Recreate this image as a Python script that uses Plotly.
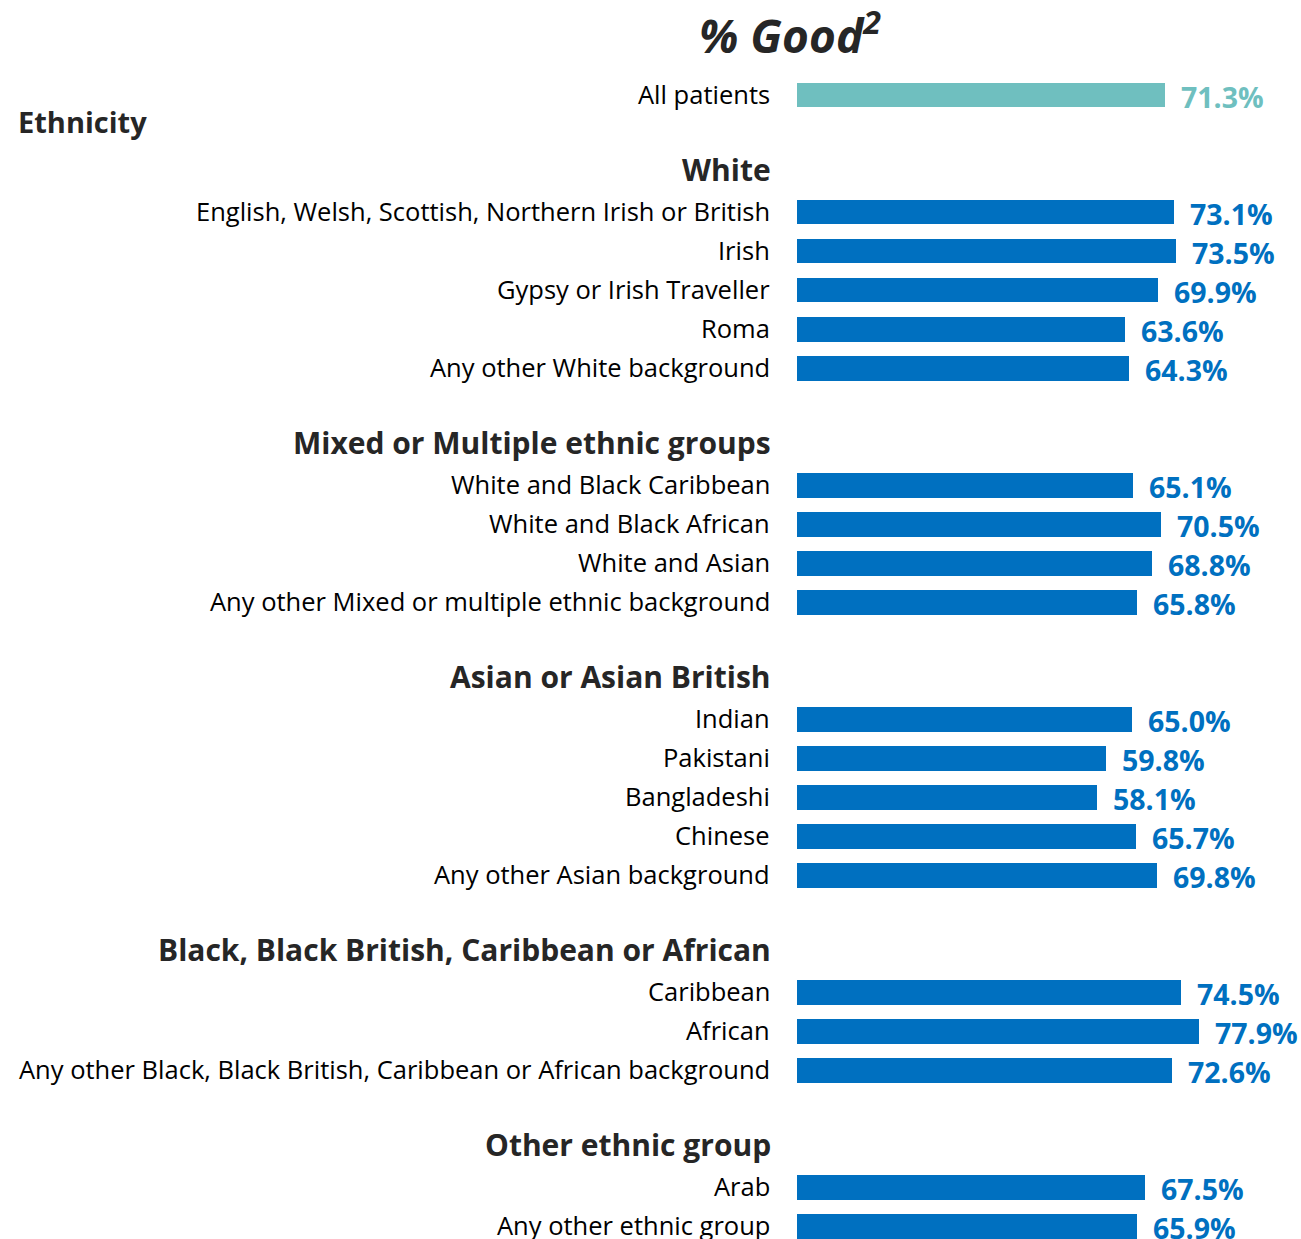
import plotly.graph_objects as go

# ---- data ----
overall_label = "All patients"
overall_value = 71.3

group_names = [
    "White",
    "Mixed or Multiple ethnic groups",
    "Asian or Asian British",
    "Black, Black British, Caribbean or African",
    "Other ethnic group",
]
white_labels = ["English, Welsh, Scottish, Northern Irish or British", "Irish",
                "Gypsy or Irish Traveller", "Roma", "Any other White background"]
white_values = [73.1, 73.5, 69.9, 63.6, 64.3]
mixed_labels = ["White and Black Caribbean", "White and Black African", "White and Asian",
                "Any other Mixed or multiple ethnic background"]
mixed_values = [65.1, 70.5, 68.8, 65.8]
asian_labels = ["Indian", "Pakistani", "Bangladeshi", "Chinese", "Any other Asian background"]
asian_values = [65.0, 59.8, 58.1, 65.7, 69.8]
black_labels = ["Caribbean", "African", "Any other Black, Black British, Caribbean or African background"]
black_values = [74.5, 77.9, 72.6]
other_labels = ["Arab", "Any other ethnic group"]
other_values = [67.5, 65.9]

group_labels = [white_labels, mixed_labels, asian_labels, black_labels, other_labels]
group_values = [white_values, mixed_values, asian_values, black_values, other_values]

BLUE = "#0070C0"
TEAL = "#6FBFBF"
DARK = "#262626"
FONT = "Open Sans"

# ---- build row layout ----
rows_y, rows_lab, rows_val, rows_col = [], [], [], []
header_pos = []
pos = 0
rows_y.append(pos); rows_lab.append(overall_label); rows_val.append(overall_value); rows_col.append(TEAL)
pos += 2
for g, labs, vals in zip(group_names, group_labels, group_values):
    header_pos.append((g, pos))
    pos += 1
    for l, v in zip(labs, vals):
        rows_y.append(pos); rows_lab.append(l); rows_val.append(v); rows_col.append(BLUE)
        pos += 1
    pos += 1

fig = go.Figure()
fig.add_trace(go.Bar(
    x=rows_val, y=rows_y, orientation="h",
    marker=dict(color=rows_col, line=dict(width=0)),
    width=0.64, hoverinfo="skip",
))

annotations = []
# row labels
for y, l in zip(rows_y, rows_lab):
    annotations.append(dict(
        x=0, y=y, xref="paper", yref="y", text=l, showarrow=False,
        xanchor="right", yanchor="middle", xshift=-25, yshift=1,
        font=dict(family=FONT, size=25.5, color="#000000"),
    ))
# value labels
for y, v, c in zip(rows_y, rows_val, rows_col):
    annotations.append(dict(
        x=v, y=y, xref="x", yref="y", text=f"<b>{v:.1f}%</b>", showarrow=False,
        xanchor="left", yanchor="middle", xshift=14, yshift=-2,
        font=dict(family=FONT, size=28.5, color=c),
    ))
# group headers
for g, p in header_pos:
    annotations.append(dict(
        x=0, y=p, xref="paper", yref="y", text=f"<b>{g}</b>", showarrow=False,
        xanchor="right", yanchor="middle", xshift=-24, yshift=4,
        font=dict(family=FONT, size=30, color=DARK),
    ))
annotations.append(dict(
    x=-797/504, y=0.5, xref="paper", yref="y", text="<b>Ethnicity</b>", showarrow=False,
    xanchor="left", yanchor="middle", xshift=16, yshift=-7,
    font=dict(family=FONT, size=29, color=DARK),
))
annotations.append(dict(
    x=-7/504, y=1, xref="paper", yref="paper", text="<b><i>% Good<sup>2</sup></i></b>",
    showarrow=False, xanchor="center", yanchor="middle", yshift=27,
    font=dict(family=FONT, size=46, color=DARK),
))

fig.update_layout(
    width=1301, height=1239,
    margin=dict(l=797, r=0, t=60, b=0),
    plot_bgcolor="white", paper_bgcolor="white",
    showlegend=False,
    bargap=0,
    annotations=annotations,
    xaxis=dict(range=[0, 504/5.16], visible=False, fixedrange=True),
    yaxis=dict(range=[29.33, -0.897], visible=False, fixedrange=True),
)

fig.write_html("out.html", config={"displayModeBar": False},
               post_script="document.body.style.margin='0';")
